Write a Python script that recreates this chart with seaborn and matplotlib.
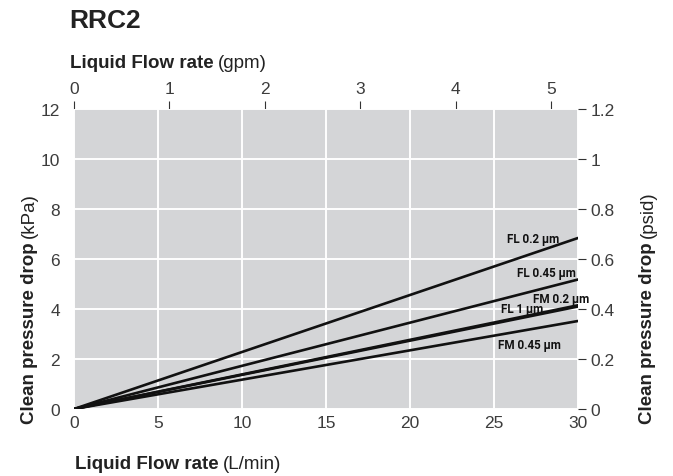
import matplotlib as mpl
import matplotlib.pyplot as plt
import pandas as pd
import seaborn as sns

# Chart data.
flow_lpm = [0, 30]
series = ["FL 0.2 µm", "FL 0.45 µm", "FM 0.2 µm", "FL 1 µm", "FM 0.45 µm"]
drop_end_kpa = [6.84, 5.18, 4.15, 4.10, 3.52]
label_x = [27.3, 28.1, 29.0, 26.7, 27.1]
label_y = [6.8, 5.44, 4.42, 4.0, 2.56]

x_ticks = [0, 5, 10, 15, 20, 25, 30]
y_ticks = [0, 2, 4, 6, 8, 10, 12]
gpm_ticks = [0, 1, 2, 3, 4, 5]
psid_ticks = [0, 0.2, 0.4, 0.6, 0.8, 1.0, 1.2]
psid_labels = ["0", "0.2", "0.4", "0.6", "0.8", "1", "1.2"]
lpm_per_gpm = 5.68
kpa_per_psid = 10.0

rows = []
for name, end in zip(series, drop_end_kpa):
    for x in flow_lpm:
        rows.append({"series": name, "flow": x, "drop": end * x / flow_lpm[-1]})
df = pd.DataFrame(rows)

sns.set_style("white")
mpl.rcParams["font.family"] = ["Liberation Sans", "DejaVu Sans"]
text_col = "#222222"
tick_col = "#3c3c3c"
tick_size = 12.5
label_size = 13.5

fig = plt.figure(figsize=(6.73, 4.77), dpi=100)
ax = fig.add_axes([74 / 673, 1 - 410 / 477, (578 - 74) / 673, 300 / 477])
ax.set_facecolor("#d4d5d7")

sns.lineplot(data=df, x="flow", y="drop", hue="series",
             palette=["#111111"] * len(series), linewidth=1.9,
             legend=False, ax=ax)

for name, lx, ly in zip(series, label_x, label_y):
    ax.text(lx, ly, name, ha="center", va="center", fontsize=8.4,
            family=["Roboto", "DejaVu Sans"],
            fontweight="bold", color="#111111", clip_on=False)

ax.set_xlim(0, 30)
ax.set_ylim(0, 12)
ax.set_xticks(x_ticks)
ax.set_yticks(y_ticks)
ax.grid(True, color="white", linewidth=1.4)
ax.set_axisbelow(True)
for s in ax.spines.values():
    s.set_visible(False)
ax.set_xlabel("")
ax.set_ylabel("")
ax.tick_params(axis="x", length=0, labelsize=tick_size, labelcolor=tick_col, pad=4)
ax.tick_params(axis="y", length=0, labelsize=tick_size, labelcolor=tick_col, pad=10)

top = ax.secondary_xaxis("top", functions=(lambda x: x / lpm_per_gpm,
                                           lambda x: x * lpm_per_gpm))
top.set_xticks(gpm_ticks)
top.tick_params(length=6, width=0.8, color="#333333", labelsize=tick_size,
                labelcolor=tick_col, pad=3)
top.spines["top"].set_visible(False)

right = ax.secondary_yaxis("right", functions=(lambda y: y / kpa_per_psid,
                                               lambda y: y * kpa_per_psid))
right.set_yticks(psid_ticks)
right.set_yticklabels(psid_labels)
right.tick_params(length=6, width=0.8, color="#333333", labelsize=tick_size,
                  labelcolor=tick_col, pad=3)
right.spines["right"].set_visible(False)

# Title and two-part axis titles (bold + regular).
fig.text(69 / 673, 1 - 21 / 477, "RRC2", fontsize=19, fontweight="bold",
         color=text_col, va="center", ha="left")

fig.canvas.draw()
renderer = fig.canvas.get_renderer()


def horizontal(x, y, bold, normal):
    t1 = fig.text(x, y, bold, fontsize=label_size, fontweight="bold",
                  color=text_col, ha="left", va="baseline")
    bb = t1.get_window_extent(renderer)
    fig.text((bb.x1 + 4) / fig.bbox.width, y, normal, fontsize=label_size,
             color=text_col, ha="left", va="baseline")


def vertical(xc, bold, normal):
    t1 = fig.text(xc / 673, 1 - 424 / 477, bold, fontsize=label_size,
                  fontweight="bold", color=text_col, rotation=90,
                  ha="left", va="center", rotation_mode="anchor")
    bb = t1.get_window_extent(renderer)
    fig.text(xc / 673, (bb.y1 + 4) / fig.bbox.height, normal,
             fontsize=label_size, color=text_col, rotation=90, ha="left",
             va="center", rotation_mode="anchor")


horizontal(70 / 673, 1 - 68 / 477, "Liquid Flow rate", "(gpm)")
horizontal(75 / 673, 1 - 469 / 477, "Liquid Flow rate", "(L/min)")
vertical(29, "Clean pressure drop", "(kPa)")
vertical(648, "Clean pressure drop", "(psid)")

plt.savefig("out.png", dpi=100)
